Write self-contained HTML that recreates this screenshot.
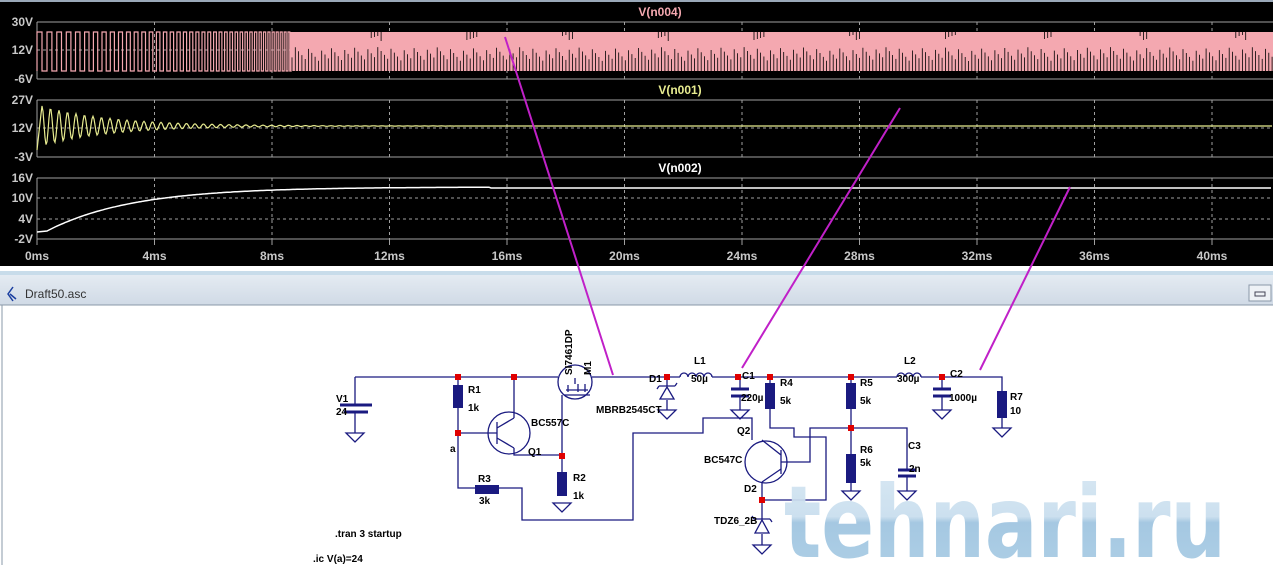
<!DOCTYPE html>
<html><head><meta charset="utf-8"><style>
html,body{margin:0;padding:0;width:1273px;height:565px;overflow:hidden;background:#fff}
svg{display:block}
.ax{font-family:"Liberation Sans",sans-serif;font-size:12px;fill:#c8c8c8;font-weight:bold}
.lb{font-family:"Liberation Sans",sans-serif;font-size:10px;font-weight:bold;fill:#000}
</style></head><body>
<svg id="s" width="1273" height="565" viewBox="0 0 1273 565" xmlns="http://www.w3.org/2000/svg">
<rect x="0" y="0" width="1273" height="266" fill="#000"/>
<rect x="0" y="0" width="1273" height="2" fill="#9aa8b8"/>
<rect x="0" y="266" width="1273" height="5" fill="#fff"/>
<rect x="0" y="271" width="1273" height="4" fill="#c8dcea"/>
<defs><linearGradient id="tb" x1="0" y1="0" x2="0" y2="1"><stop offset="0" stop-color="#e4ebf2"/><stop offset="1" stop-color="#d0dae6"/></linearGradient>
<linearGradient id="wm" x1="0" y1="0" x2="0" y2="1"><stop offset="0" stop-color="#d6e6f2"/><stop offset="0.45" stop-color="#c8deee"/><stop offset="0.5" stop-color="#9ec4e0"/><stop offset="1" stop-color="#a8cce4"/></linearGradient></defs>
<rect x="0" y="275" width="1273" height="30" fill="url(#tb)"/>
<line x1="0" y1="305" x2="1273" y2="305" fill="none" stroke="#8a98a8"/>
<line x1="2" y1="305" x2="2" y2="565" stroke="#8a98a8"/>
<text x="25" y="298" font-family="Liberation Sans,sans-serif" font-size="12" fill="#333">Draft50.asc</text>
<path d="M13 287 L8 294 L13 301 M10 294 L16 299" stroke="#1b3fa0" stroke-width="1.5" fill="none"/>
<rect x="1249" y="285" width="22" height="16" fill="#eef2f6" stroke="#8a98a8"/>
<rect x="1255" y="292" width="10" height="4" fill="none" stroke="#445"/>
<g id="grid"></g>
<g id="wave"></g>
<g class="ax">
<text x="33" y="26" text-anchor="end">30V</text><text x="33" y="54" text-anchor="end">12V</text><text x="33" y="83" text-anchor="end">-6V</text>
<text x="33" y="104" text-anchor="end">27V</text><text x="33" y="132" text-anchor="end">12V</text><text x="33" y="161" text-anchor="end">-3V</text>
<text x="33" y="182" text-anchor="end">16V</text><text x="33" y="202" text-anchor="end">10V</text><text x="33" y="223" text-anchor="end">4V</text><text x="33" y="243" text-anchor="end">-2V</text>
</g>
<text x="660" y="16" text-anchor="middle" class="ax" style="fill:#f4a8b0">V(n004)</text>
<text x="680" y="94" text-anchor="middle" class="ax" style="fill:#e8ec90">V(n001)</text>
<text x="680" y="172" text-anchor="middle" class="ax" style="fill:#fff">V(n002)</text>
<g id="tl"></g>

<g stroke="#1a1a80" stroke-width="1.3" fill="none">
<path d="M355 377 H558 M592 377 H680 M712 377 H897 M921 377 H1002 V391"/>
<path d="M355 377 V405 M355 412 V433"/>
<path d="M458 377 V385 M458 408 V488 H475 M499 488 H522 V520 H633 V433 H703 V418 H752 V440"/>
<path d="M458 433 H497 M514 377 V418 M514 448 V455 H562 M562 395 V472"/>
<path d="M667 377 V386 M667 400 V410"/>
<path d="M740 377 V389 M740 396 V410 M770 377 V383 M770 409 V428 H794 V437 H826 V500 H762"/>
<path d="M851 377 V383 M851 409 V454 M851 483 V491 M851 428 H810 V462 H781 M851 428 H907 V470 M907 476 V491"/>
<path d="M762 482 V519 M762 534 V545 M942 377 V389 M942 396 V410 M1002 418 V428"/>
<circle cx="509" cy="433" r="21"/><circle cx="575" cy="382" r="17"/><circle cx="766" cy="462" r="21"/>
<path d="M497 422 V444 M497 428 L514 418 M497 438 L514 448 M781 450 V474 M781 455 L762 440 M781 469 L762 482"/>
<path d="M564 395 H590 M568 385 V392 M578 384 V392 M585 384 V392 M566 390 H588 M575 384 V378"/>
<path d="M659 386 H675 M660 399 H674 L667 387 Z M659 386 l-2 3 M675 386 l2 -3"/>
<path d="M754 519 H770 M755 533 H769 L762 520 Z M754 519 l-2 -3 M770 519 l2 3"/>
<path d="M680 377 a4 4 0 0 1 8 0 a4 4 0 0 1 8 0 a4 4 0 0 1 8 0 a4 4 0 0 1 8 0 M897 377 a4 4 0 0 1 8 0 a4 4 0 0 1 8 0 a4 4 0 0 1 8 0"/>
<g id="gnd"></g>
</g>
<g stroke="#1a1a80" stroke-width="3"><path d="M340 405 H372 M344 412 H368 M731 389 H749 M731 396 H749 M933 389 H951 M933 396 H951 M898 470 H916 M898 476 H916"/></g>
<g fill="#1a1a80"><rect x="453" y="385" width="10" height="23"/><rect x="475" y="485" width="24" height="9"/><rect x="557" y="472" width="10" height="24"/>
<rect x="765" y="383" width="10" height="26"/><rect x="846" y="383" width="10" height="26"/><rect x="846" y="454" width="10" height="29"/><rect x="997" y="391" width="10" height="27"/></g>
<g fill="#e00000"><rect x="455" y="374" width="6" height="6"/><rect x="511" y="374" width="6" height="6"/><rect x="455" y="430" width="6" height="6"/><rect x="559" y="453" width="6" height="6"/><rect x="664" y="374" width="6" height="6"/><rect x="735" y="374" width="6" height="6"/><rect x="767" y="374" width="6" height="6"/><rect x="848" y="374" width="6" height="6"/><rect x="848" y="425" width="6" height="6"/><rect x="939" y="374" width="6" height="6"/><rect x="759" y="497" width="6" height="6"/></g>
<g class="lb">
<text x="336" y="402">V1</text><text x="336" y="415">24</text>
<text x="468" y="393">R1</text><text x="468" y="411">1k</text>
<text x="450" y="452">a</text>
<text x="531" y="426">BC557C</text><text x="528" y="455">Q1</text>
<text x="478" y="482">R3</text><text x="479" y="504">3k</text>
<text x="573" y="481">R2</text><text x="573" y="499">1k</text>
<text transform="translate(572,375) rotate(-90)">SI7461DP</text><text transform="translate(591,375) rotate(-90)">M1</text>
<text x="649" y="382">D1</text><text x="596" y="413">MBRB2545CT</text>
<text x="694" y="364">L1</text><text x="691" y="382">50µ</text>
<text x="742" y="379">C1</text><text x="741" y="401">220µ</text>
<text x="780" y="386">R4</text><text x="780" y="404">5k</text>
<text x="860" y="386">R5</text><text x="860" y="404">5k</text>
<text x="860" y="453">R6</text><text x="860" y="466">5k</text>
<text x="908" y="449">C3</text><text x="909" y="472">2n</text>
<text x="737" y="434">Q2</text><text x="704" y="463">BC547C</text>
<text x="744" y="492">D2</text><text x="714" y="524">TDZ6_2B</text>
<text x="904" y="364">L2</text><text x="897" y="382">300µ</text>
<text x="950" y="377">C2</text><text x="949" y="401">1000µ</text>
<text x="1010" y="400">R7</text><text x="1010" y="414">10</text>
<text x="335" y="537">.tran 3 startup</text><text x="313" y="562">.ic V(a)=24</text>
</g>
<text x="784" y="557" font-family="DejaVu Sans,Liberation Sans,sans-serif" font-weight="bold" font-size="100" fill="url(#wm)" textLength="442" lengthAdjust="spacingAndGlyphs" opacity="0.92">tehnari.ru</text>
<g fill="none" stroke-width="2" style="stroke:#c020c8"><path d="M505 37 L613 375 M900 108 L742 368 M1070 187 L980 370"/></g>
</svg>
<script>
const NS="http://www.w3.org/2000/svg";
function el(p,t,a){const e=document.createElementNS(NS,t);for(const k in a)e.setAttribute(k,a[k]);p.appendChild(e);return e;}
const g=document.getElementById('grid'),w=document.getElementById('wave'),tl=document.getElementById('tl'),gn=document.getElementById('gnd');
const X0=37,ST=117.5;
[22,79,100,157,178,239].forEach(y=>el(g,'line',{x1:X0,x2:1273,y1:y,y2:y,stroke:'#a0a0a0','stroke-width':1}));
[50,128,198,219].forEach(y=>el(g,'line',{x1:X0,x2:1273,y1:y,y2:y,stroke:'#a0a0a0','stroke-dasharray':'3,3'}));
for(let i=0;i<=10;i++){const x=X0+i*ST;
 [[22,79],[100,157],[178,239]].forEach(([a,b])=>el(g,'line',{x1:x,x2:x,y1:a,y2:b,stroke:'#a0a0a0','stroke-dasharray':i?'3,3':''}));
 el(g,'line',{x1:x,x2:x,y1:239,y2:245,stroke:'#a0a0a0'});
 const t=el(tl,'text',{x:x,y:260,'text-anchor':'middle',class:'ax'});t.textContent=(i*4)+'ms';}
el(w,'rect',{x:290,y:32,width:983,height:39,fill:'#f4a8b0'});
let d='M37 71 ',x=37,p=10;
while(x<290){d+=`V32 H${(x+p*0.5).toFixed(1)} V71 H${(x+p).toFixed(1)} `;x+=p;p=Math.max(2.4,p*0.975);}
el(w,'path',{d:d,stroke:'#f4a8b0',fill:'none','stroke-width':1.2});
let dd='';for(let xx=292;xx<1273;xx+=3.3){const h=10+((xx*7.3)%14);dd+=`M${xx.toFixed(1)} 71 v-${h.toFixed(1)} `;if(((xx*13.7)%23)<3){const th=3+Math.round((xx*5.1)%6);dd+=`M${xx.toFixed(1)} 32 v${th} `;}}
el(w,'path',{d:dd,stroke:'#000','stroke-width':0.8,fill:'none'});
let y='M37 150 ';for(let xx=37;xx<1273;xx+=1){let v;if(xx<42)v=150-(xx-37)*9;else{const t=xx-42;v=126-20*Math.exp(-t/70)*Math.cos(t*2*Math.PI/8.5);} y+=`L${xx} ${v.toFixed(1)} `;}
el(w,'path',{d:y,stroke:'#e8ec90',fill:'none','stroke-width':1.2});
let wt='M37 232 L47 231 ';for(let xx=47;xx<1273;xx+=2){let v=187+44*Math.exp(-(xx-47)/85);if(xx>490)v=Math.max(v,188);wt+=`L${xx} ${v.toFixed(1)} `;}
el(w,'path',{d:wt,stroke:'#fff',fill:'none','stroke-width':1.5});
[[355,433],[562,503],[667,410],[740,410],[851,491],[907,491],[762,545],[942,410],[1002,428]].forEach(([cx,cy])=>el(gn,'path',{d:`M${cx-9} ${cy} H${cx+9} L${cx} ${cy+9} Z`}));
</script>
</body></html>
